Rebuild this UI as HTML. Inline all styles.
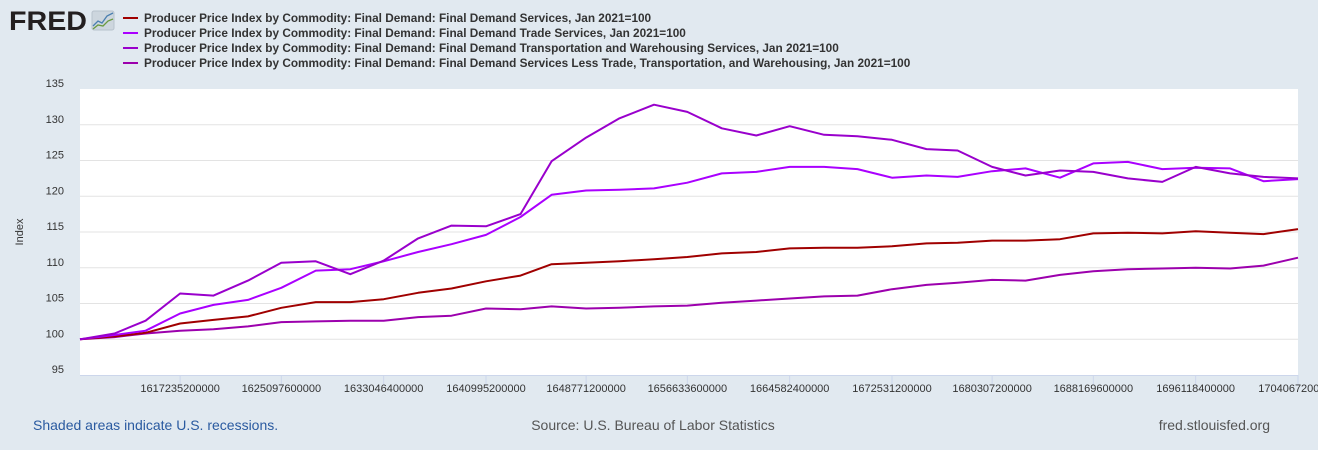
<!DOCTYPE html>
<html><head><meta charset="utf-8">
<style>
body{margin:0;width:1318px;height:450px;background:#e1e9f0;font-family:"Liberation Sans",Arial,sans-serif;overflow:hidden;position:relative}
svg{position:absolute;left:0;top:0}
</style></head><body>
<svg id="c" width="1318" height="450">
  <g>
    <text x="9" y="30" font-size="27" font-weight="bold" fill="#231f20" font-family="Liberation Sans, sans-serif" textLength="78" lengthAdjust="spacingAndGlyphs">FRED</text>
    <rect x="92" y="11" width="22" height="19" rx="2" fill="#cdd6de" stroke="#b8c2cc"/>
    <polyline points="93,26 98,21 102,23 107,16 113,13" fill="none" stroke="#4a7fb0" stroke-width="1.3"/>
    <polyline points="93,29 98,25 103,26 108,21 113,19" fill="none" stroke="#6a9a40" stroke-width="1.3"/>
  </g>
  <rect x="80" y="89" width="1218" height="286" fill="#fff"/>
  <g id="grid"></g><g id="yt"></g><g id="xt"></g><g id="series"></g><g id="legend"></g>
  <text x="23" y="232" font-size="11" fill="#333" transform="rotate(-90 23 232)" text-anchor="middle">Index</text>
  <text x="33" y="430" font-size="14" fill="#2a5aa0">Shaded areas indicate U.S. recessions.</text>
  <text x="653" y="430" font-size="14" fill="#555" text-anchor="middle">Source: U.S. Bureau of Labor Statistics</text>
  <text x="1270" y="430" font-size="14" fill="#555" text-anchor="end">fred.stlouisfed.org</text>
</svg>
<script>
const seriesNames=["Producer Price Index by Commodity: Final Demand: Final Demand Services, Jan 2021=100","Producer Price Index by Commodity: Final Demand: Final Demand Trade Services, Jan 2021=100","Producer Price Index by Commodity: Final Demand: Final Demand Transportation and Warehousing Services, Jan 2021=100","Producer Price Index by Commodity: Final Demand: Final Demand Services Less Trade, Transportation, and Warehousing, Jan 2021=100"];
const seriesColors=["#a00000","#aa00ff","#9900cc","#9c00ad"];
const services=[100,100.4,100.9,102.2,102.7,103.2,104.4,105.2,105.2,105.6,106.5,107.1,108.1,108.9,110.5,110.7,110.9,111.2,111.5,112.0,112.2,112.7,112.8,112.8,113.0,113.4,113.5,113.8,113.8,114.0,114.8,114.9,114.8,115.1,114.9,114.7,115.4];
const trade=[100,100.6,101.2,103.6,104.8,105.5,107.2,109.6,109.8,110.9,112.2,113.3,114.6,117.1,120.2,120.8,120.9,121.1,121.9,123.2,123.4,124.1,124.1,123.8,122.6,122.9,122.7,123.5,123.9,122.6,124.6,124.8,123.8,124.0,123.9,122.1,122.4];
const transport=[100,100.8,102.6,106.4,106.1,108.2,110.7,110.9,109.1,111.0,114.1,115.9,115.8,117.5,124.9,128.2,130.9,132.8,131.8,129.5,128.5,129.8,128.6,128.4,127.9,126.6,126.4,124.1,122.9,123.6,123.4,122.5,122.0,124.1,123.2,122.7,122.5];
const lessTrade=[100,100.3,100.8,101.2,101.4,101.8,102.4,102.5,102.6,102.6,103.1,103.3,104.3,104.2,104.6,104.3,104.4,104.6,104.7,105.1,105.4,105.7,106.0,106.1,107.0,107.6,107.9,108.3,108.2,109.0,109.5,109.8,109.9,110.0,109.9,110.3,111.4];
const yTicks=[95,100,105,110,115,120,125,130,135];
const xTickLabels=["1617235200000","1625097600000","1633046400000","1640995200000","1648771200000","1656633600000","1664582400000","1672531200000","1680307200000","1688169600000","1696118400000","1704067200000"];
const NS="http://www.w3.org/2000/svg";
const t0=Date.UTC(2021,0,1),t1=Date.UTC(2024,0,1);
const X=t=>80+(t-t0)/(t1-t0)*1218;
const Y=v=>375-(v-95)/40*286;
const monthT=i=>Date.UTC(2021,i,1);
function mk(tag,attrs,parent){const e=document.createElementNS(NS,tag);for(const k in attrs)e.setAttribute(k,attrs[k]);parent.appendChild(e);return e;}
const grid=document.getElementById('grid'),yt=document.getElementById('yt'),xt=document.getElementById('xt'),sg=document.getElementById('series'),lg=document.getElementById('legend');
yTicks.forEach(v=>{
  if(v>95&&v<135){const l=mk('line',{x1:80,x2:1298,y1:Y(v),y2:Y(v),stroke:'#e3e3e3','stroke-width':1},grid);
  
  }
  const t=mk('text',{x:64,y:Y(v)-2,'font-size':11,fill:'#333','text-anchor':'end'},yt);t.textContent=v;
  
  
});
const ax=mk('line',{x1:80,x2:1298,y1:375.5,y2:375.5,stroke:'#ccd6eb'},xt);


xTickLabels.forEach(s=>{
  const x=X(+s);
  mk('line',{x1:x,x2:x,y1:375,y2:385,stroke:'#ccd6eb'},xt);
  const t=mk('text',{x:x,y:392,'font-size':11,fill:'#333','text-anchor':'middle'},xt);t.textContent=s;
  
  
});
const all=[services,trade,transport,lessTrade];
const order=[3,0,1,2];
order.forEach(si=>{
  const d=all[si].map((v,i)=>(i?'L':'M')+X(monthT(i)).toFixed(1)+' '+Y(v).toFixed(1)).join(' ');
  const p=mk('path',{d:d,fill:'none',stroke:seriesColors[si],'stroke-width':2,'stroke-linejoin':'round'},sg);
  
  
});
seriesNames.forEach((n,i)=>{
  const y=18+i*15;
  const g=mk('g',{},lg);
  
  
  mk('line',{x1:123,x2:138,y1:y,y2:y,stroke:seriesColors[i],'stroke-width':2},g);
  const t=mk('text',{x:144,y:y+4,'font-size':11.8,'font-weight':'bold',fill:'#333'},g);t.textContent=n;
});
</script>
</body></html>
